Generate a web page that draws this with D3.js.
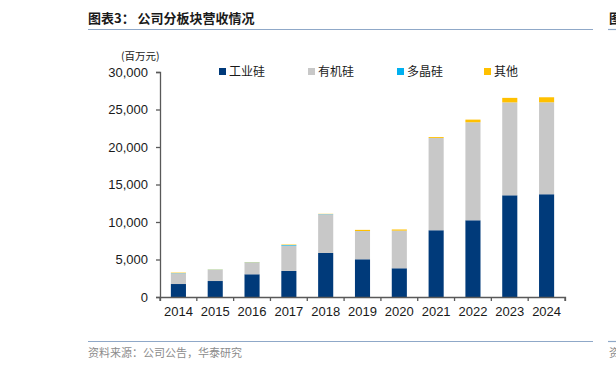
<!DOCTYPE html>
<html>
<head>
<meta charset="utf-8">
<script src="https://cdn.jsdelivr.net/npm/d3@7"></script>
<style>
  body { margin: 0; background: #fff; }
  svg { display: block; }
</style>
</head>
<body>
<div id="chart"></div>
<script>
// chart values (百万元)
const years = ['2014', '2015', '2016', '2017', '2018', '2019', '2020', '2021', '2022', '2023', '2024'];
const seriesNames = ['工业硅', '有机硅', '多晶硅', '其他'];
const industrialSi = [1730, 2130, 3030, 3470, 5870, 5030, 3830, 8900, 10230, 13560, 13700];
const organicSi = [1430, 1470, 1560, 3380, 5160, 3770, 5020, 12300, 13070, 12390, 12260];
const polySi = [30, 30, 30, 80, 30, 0, 0, 0, 0, 0, 0];
const others = [60, 30, 30, 60, 30, 150, 150, 120, 350, 600, 670];
const yTicks = [0, 5000, 10000, 15000, 20000, 25000, 30000];

const colors = ['#003a7a', '#c8c8c8', '#00b0f0', '#ffc000'];

const width = 616, height = 371;
const margin = { top: 72, right: 51, bottom: 74, left: 160 };

const rows = years.map((y, i) => ({
  year: y,
  '工业硅': industrialSi[i],
  '有机硅': organicSi[i],
  '多晶硅': polySi[i],
  '其他': others[i]
}));

const stacked = d3.stack().keys(seriesNames)(rows);

const svg = d3.select('#chart').append('svg')
  .attr('width', width)
  .attr('height', height)
  .style('font-family', '"Liberation Sans", Arial, sans-serif');

const x = d3.scaleBand()
  .domain(years)
  .range([margin.left, width - margin.right])
  .paddingInner(0.59)
  .paddingOuter(0.295);

const y = d3.scaleLinear()
  .domain([0, 30000])
  .range([height - margin.bottom, margin.top]);

// title
svg.append('text')
  .attr('x', 88)
  .attr('y', 23)
  .attr('font-family', '"Noto Sans CJK SC", sans-serif')
  .attr('font-size', 13)
  .attr('font-weight', 'bold')
  .attr('fill', '#1a1a1a')
  .text('图表3：  公司分板块营收情况');

// neighbouring panel, cut by the page edge as in the reference
svg.append('text')
  .attr('x', 609)
  .attr('y', 23)
  .attr('font-family', '"Noto Sans CJK SC", sans-serif')
  .attr('font-size', 13)
  .attr('font-weight', 'bold')
  .attr('fill', '#1a1a1a')
  .text('图');

const ruleColor = '#8fa8c8';
[[88, 593], [608, 616]].forEach(([a, b]) => {
  svg.append('line').attr('x1', a).attr('x2', b).attr('y1', 29.5).attr('y2', 29.5)
    .attr('stroke', ruleColor).attr('stroke-width', 1.2);
  svg.append('line').attr('x1', a).attr('x2', b).attr('y1', 341.5).attr('y2', 341.5)
    .attr('stroke', ruleColor).attr('stroke-width', 1.2);
});

// source
svg.append('text')
  .attr('x', 88)
  .attr('y', 357)
  .attr('font-family', '"Noto Sans CJK SC", sans-serif')
  .attr('font-size', 11)
  .attr('fill', '#8c8c8c')
  .text('资料来源：公司公告，华泰研究');

svg.append('text')
  .attr('x', 609)
  .attr('y', 357)
  .attr('font-family', '"Noto Sans CJK SC", sans-serif')
  .attr('font-size', 11)
  .attr('fill', '#8c8c8c')
  .text('资');

// unit label
svg.append('text')
  .attr('x', 121)
  .attr('y', 60)
  .attr('font-family', '"Noto Sans CJK SC", sans-serif')
  .attr('font-size', 10.5)
  .attr('fill', '#1a1a1a')
  .text('(百万元)');

// bars
svg.append('g')
  .selectAll('g')
  .data(stacked)
  .join('g')
  .attr('fill', (d, i) => colors[i])
  .selectAll('rect')
  .data(d => d)
  .join('rect')
  .attr('x', d => x(d.data.year))
  .attr('y', d => y(d[1]))
  .attr('width', x.bandwidth())
  .attr('height', d => y(d[0]) - y(d[1]));

// y axis
const axisColor = '#595959';
const yAxis = svg.append('g')
  .attr('transform', `translate(${margin.left},0)`)
  .call(d3.axisLeft(y).tickValues(yTicks).tickSize(4).tickSizeOuter(4).tickPadding(8)
    .tickFormat(d3.format(',')));
yAxis.selectAll('text').attr('font-size', 13).attr('fill', '#1a1a1a')
  .attr('font-family', '"Liberation Sans", Arial, sans-serif');
yAxis.selectAll('line, path').attr('stroke', axisColor).attr('stroke-width', 1.3);

// x axis with ticks at category boundaries
const xAxis = svg.append('g')
  .attr('transform', `translate(0,${height - margin.bottom})`)
  .call(d3.axisBottom(x).tickSize(0).tickSizeOuter(4).tickPadding(10));
xAxis.selectAll('text').attr('font-size', 13).attr('fill', '#1a1a1a')
  .attr('font-family', '"Liberation Sans", Arial, sans-serif');
xAxis.selectAll('path').attr('stroke', axisColor).attr('stroke-width', 1.3);

const step = x.step();
const bounds = years.map(d => x(d) - step * x.paddingInner() / 2).concat([width - margin.right]);
xAxis.selectAll('.boundary')
  .data(bounds)
  .join('line')
  .attr('class', 'boundary')
  .attr('x1', d => d).attr('x2', d => d)
  .attr('y1', 0).attr('y2', 4)
  .attr('stroke', axisColor).attr('stroke-width', 1.3);

// legend
const legendX = [219, 308, 397, 484];
const legend = svg.append('g')
  .selectAll('g')
  .data(seriesNames)
  .join('g')
  .attr('transform', (d, i) => `translate(${legendX[i]},72)`);
legend.append('rect')
  .attr('x', 0).attr('y', -4)
  .attr('width', 7).attr('height', 7)
  .attr('fill', (d, i) => colors[i]);
legend.append('text')
  .attr('x', 10).attr('y', 4)
  .attr('font-family', '"Noto Sans CJK SC", sans-serif')
  .attr('font-size', 12)
  .attr('fill', '#1a1a1a')
  .text(d => d);
</script>
</body>
</html>
